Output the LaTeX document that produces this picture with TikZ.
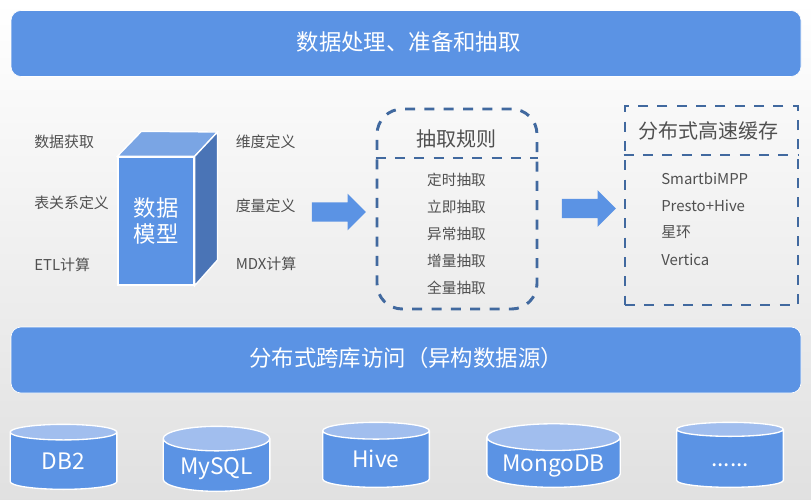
\documentclass[tikz,border=0pt]{standalone}
\usepackage{fontspec}
\setmainfont{Noto Sans CJK SC}
\usepackage{xcolor}
\usetikzlibrary{positioning,shapes.geometric,shapes.arrows}
\definecolor{bandblue}{HTML}{5B93E4}
\definecolor{topblue}{HTML}{7AA5E4}
\definecolor{sideblue}{HTML}{4A74B6}
\definecolor{capblue}{HTML}{A1BEEE}
\definecolor{dashblue}{HTML}{41699F}
\definecolor{labelgray}{HTML}{505050}
\tikzset{
    band node/.style={rectangle,rounded corners=7.5pt,fill=bandblue,draw=white,line width=0.5pt,text=white,minimum width=592.5pt,minimum height=49.5pt,text height=14pt,text depth=4pt,font=\fontsize{16.8}{20}\selectfont},
    db node/.style={cylinder,shape border rotate=90,shape aspect=0.3,anchor=south,cylinder uses custom fill,cylinder body fill=bandblue,cylinder end fill=capblue,draw=white,line width=1pt,text=white,minimum height=48.75pt,text height=12pt,text depth=2pt,font=\fontsize{17}{20}\selectfont},
    side label/.style={text=labelgray,anchor=west,inner sep=0pt,font=\fontsize{11.2}{13}\selectfont},
    list label/.style={text=labelgray,inner sep=0pt,font=\fontsize{11}{13}\selectfont},
    head label/.style={text=labelgray,inner sep=0pt,font=\fontsize{15}{18}\selectfont},
    dash box/.style={draw=dashblue,line width=2.2pt,dash pattern=on 7.5pt off 7pt},
    flow arrow/.style={single arrow,fill=bandblue,inner xsep=0pt,inner ysep=7pt,minimum width=27pt,minimum height=40.5pt,single arrow head extend=6.5pt,single arrow tip angle=90}
}
\begin{document}
\begin{tikzpicture}[x=0.75pt,y=-0.75pt,node distance=20.25pt]
                \fill[top color=white,bottom color=black!12] (0,0) rectangle (811,500);

                \node[band node] (top) at (406,43.5) {\hspace*{4pt}数据处理、准备和抽取};
                \node[band node] (mid) at (406,360) {分布式跨库访问（异构数据源）};

                % model block
                \node[rectangle,fill=bandblue,draw=white,line width=1pt,text=white,minimum width=57pt,minimum height=96pt,align=center,font=\fontsize{16.8}{20}\selectfont] (model) at (156,221) {数据\\模型};
                \coordinate (topback) at (217.5,132);
                \fill[topblue,draw=white,line width=1pt] (model.north west) -- +(24,-25) -- (topback) -- (model.north east) -- cycle;
                \fill[sideblue,draw=white,line width=1pt] (model.north east) -- (topback) -- (217.5,260) -- (model.south east) -- cycle;

                \node[side label] (l1) at (34,142) {数据获取};
                \node[side label] (l2) at (34,203) {表关系定义};
                \node[side label] (l3) at (34,265) {ETL计算};
                \node[side label] (r1) at (235.5,142) {维度定义};
                \node[side label] (r2) at (235.5,205.5) {度量定义};
                \node[side label] (r3) at (235.5,264) {MDX计算};

                \node[flow arrow] (arrow1) at (334,212) {};
                \node[flow arrow] (arrow2) at (584,208.5) {};

                % extract rules
                \node[rectangle,dash box,rounded corners=19pt,minimum width=120pt,minimum height=150pt] (rules) at (457,209) {};
                \coordinate (rulescut) at (457,158);
                \draw[dash box] (rules.west |- rulescut) -- (rules.east |- rulescut);
                \node[head label] (rulestitle) at (456.5,139) {抽取规则};
                \node[list label] (rule1) at (456.5,180) {定时抽取};
                \node[list label] (rule2) [below of=rule1] {立即抽取};
                \node[list label] (rule3) [below of=rule2] {异常抽取};
                \node[list label] (rule4) [below of=rule3] {增量抽取};
                \node[list label] (rule5) [below of=rule4] {全量抽取};

                % cache
                \node[rectangle,dash box,minimum width=129.75pt,minimum height=149.25pt] (cache) at (711.5,205.5) {};
                \coordinate (cachecut) at (711,155);
                \draw[dash box] (cache.west |- cachecut) -- (cache.east |- cachecut);
                \node[head label] (cachetitle) at (708.5,131) {分布式高速缓存};
                \node[side label] (cache1) at (661,178.5) {SmartbiMPP};
                \node[side label] (cache2) at (661,205.5) {Presto+Hive};
                \node[side label] (cache3) at (661,232) {星环};
                \node[side label] (cache4) at (661,259.5) {Vertica};

                % sources
                \node[db node,minimum width=80pt] (db2) at (63.5,490) {DB2};
                \node[db node,minimum width=80pt] (mysql) at (216.5,492) {MySQL};
                \node[db node,minimum width=80pt] (hive) at (376,488) {Hive};
                \node[db node,minimum width=100pt,minimum height=46.5pt,shape aspect=0.24] (mongo) at (553.5,488) {MongoDB};
                \node[db node,minimum width=80pt] (more) at (730,488) {......};
            \end{tikzpicture}
\end{document}
